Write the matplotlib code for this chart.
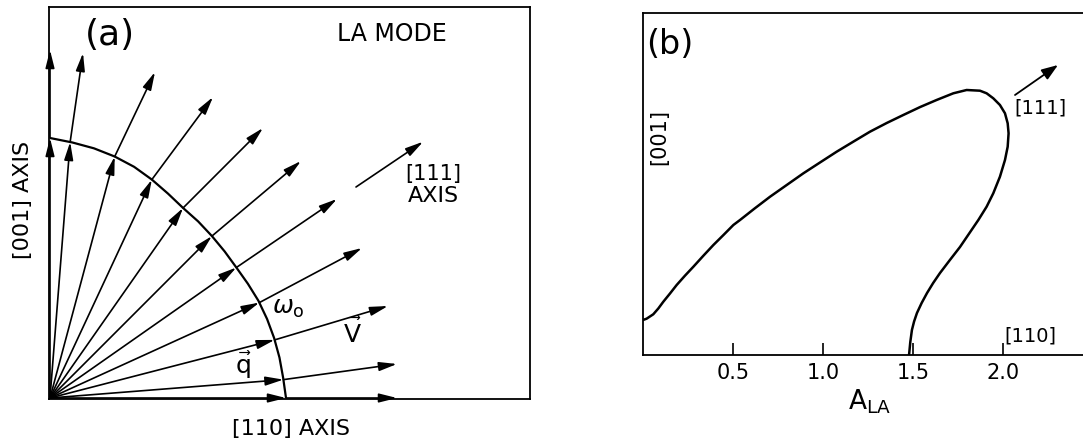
import numpy as np
import matplotlib
matplotlib.use('Agg')
import matplotlib.pyplot as plt
from matplotlib.patches import FancyArrowPatch

plt.rcParams['font.family'] = ['DejaVu Sans']
plt.rcParams['mathtext.fontset'] = 'dejavusans'

# ---------------- Panel (a) data ----------------
# constant-frequency (omega_0) surface: angle from [110] (deg) and radius |q|
arc_theta = [0, 5, 10, 15, 20, 25, 30, 35, 40, 45, 50, 55, 60, 65, 70, 75, 80, 85, 90]
arc_radius = [236, 234, 233, 232, 231, 230, 228.5, 227.5, 228, 229, 230.5, 232,
              236, 241, 246, 250, 253.5, 256.5, 260]
# wave-vector directions (deg from [110])
q_theta = [90, 85.5, 75, 65, 55, 45, 35, 24.5, 14.5, 4.5, 0]
# group-velocity arrow tips
v_tip_x = [0, 33, 105, 163, 213, 251, 287, 312, 338, 347, 347]
v_tip_y = [348, 345, 326, 301, 270, 237, 199, 150, 92, 34, 0]

# ---------------- Panel (b) data ----------------
ala_x = [0.0, 0.02, 0.057, 0.085, 0.113, 0.150, 0.187, 0.233, 0.280, 0.335, 0.391,
         0.447, 0.502, 0.539, 0.620, 0.706, 0.800, 0.891, 0.985, 1.076, 1.170, 1.261,
         1.354, 1.446, 1.540, 1.631, 1.724, 1.798, 1.872, 1.909, 1.946, 1.983, 2.011,
         2.026, 2.031, 2.026, 2.011, 1.983, 1.946, 1.909, 1.863, 1.812, 1.761, 1.705,
         1.650, 1.612, 1.578, 1.548, 1.522, 1.506, 1.494, 1.485, 1.478]
ala_y = [35, 36.3, 40.7, 46.5, 53.3, 61.5, 70, 79.3, 88.3, 99.2, 110, 120, 130, 135,
         146.5, 158.3, 170.2, 181.7, 192.7, 203.3, 213.5, 223.3, 232, 240, 248, 255,
         261.7, 265, 264.3, 261.7, 256.7, 250, 241.7, 231.7, 221.7, 208.3, 195, 178.3,
         161.7, 148.3, 135, 121.5, 108, 95, 82, 72, 62, 52, 42, 33.5, 25, 13, 0]
xticks_b = [0.5, 1.0, 1.5, 2.0]
xtick_labels_b = ['0.5', '1.0', '1.5', '2.0']

W, H = 1083, 441
fig = plt.figure(figsize=(W / 100, H / 100), dpi=100)

# ---------------- Panel (a) ----------------
axA = fig.add_axes([49 / W, (H - 399) / H, 481 / W, 392 / H])
axA.set_xlim(-1, 480)
axA.set_ylim(-1, 391)
axA.set_xticks([])
axA.set_yticks([])
for s in axA.spines.values():
    s.set_linewidth(1.3)

th = np.radians(arc_theta)
axA.plot(np.array(arc_radius) * np.cos(th), np.array(arc_radius) * np.sin(th),
         color='black', lw=1.6, solid_capstyle='butt', solid_joinstyle='round')


def arrow(ax, p0, p1):
    a = FancyArrowPatch(p0, p1, arrowstyle='-|>,head_length=0.6,head_width=0.15',
                        mutation_scale=18, shrinkA=0, shrinkB=0, lw=1.2,
                        color='black', clip_on=False, zorder=3)
    ax.add_patch(a)


for t, tx, ty in zip(q_theta, v_tip_x, v_tip_y):
    r = np.interp(t, arc_theta, arc_radius)
    p = (r * np.cos(np.radians(t)), r * np.sin(np.radians(t)))
    arrow(axA, (0, 0), p)
    arrow(axA, p, (tx, ty))

# [111] axis indicator
d111 = np.radians(34)
arrow(axA, (306, 211), (306 + 81 * np.cos(d111), 211 + 81 * np.sin(d111)))

axA.text(60, 363, '(a)', fontsize=26, ha='center', va='center')
axA.text(342, 364, 'LA MODE', fontsize=17, ha='center', va='center')
axA.text(383, 224, '[111]', fontsize=15, ha='center', va='center')
axA.text(383, 202, 'AXIS', fontsize=16, ha='center', va='center')
axA.text(238, 90, r'$\omega_\mathrm{o}$', fontsize=18, ha='center', va='center')
axA.text(194, 33, r'$\vec{\mathrm{q}}$', fontsize=18, ha='center', va='center')
axA.text(302, 65, r'$\vec{\mathrm{V}}$', fontsize=18, ha='center', va='center')

fig.text(23 / W, 1 - 200 / H, '[001] AXIS', fontsize=16, rotation=90,
         ha='center', va='center')
fig.text(291 / W, 1 - 429 / H, '[110] AXIS', fontsize=16, ha='center', va='center')

# ---------------- Panel (b) ----------------
axB = fig.add_axes([643 / W, (H - 355) / H, 440 / W, 341.5 / H])
axB.set_xlim(0, 440 / 180)
axB.set_ylim(0, 341.5)
axB.plot(ala_x, ala_y, color='black', lw=1.8, solid_joinstyle='round')
axB.spines['right'].set_visible(False)
for s in ['left', 'top', 'bottom']:
    axB.spines[s].set_linewidth(1.3)
axB.set_yticks([])
axB.set_xticks(xticks_b)
axB.set_xticklabels(xtick_labels_b, fontsize=15)
axB.tick_params(axis='x', direction='in', length=9, width=1.2, pad=6)
axB.set_xlabel(r'$\mathregular{A_{LA}}$', fontsize=19)
axB.xaxis.set_label_coords(0.514, -0.095)
axB.xaxis.label.set_va('top')

axB.text(0.06, 0.91, '(b)', fontsize=24, ha='center', va='center',
         transform=axB.transAxes)
axB.text(16 / 180, 218, '[001]', fontsize=15, rotation=90, ha='center', va='center')
axB.text(397 / 180, 247, '[111]', fontsize=14, ha='center', va='center')
axB.text(387 / 180, 19, '[110]', fontsize=14, ha='center', va='center')
axB.annotate('', xy=(415 / 180, 290), xytext=(372 / 180, 260),
             arrowprops=dict(arrowstyle='-|>,head_length=0.55,head_width=0.2',
                             mutation_scale=18, lw=1.3, color='black',
                             shrinkA=0, shrinkB=0))

fig.savefig('out.png', dpi=100)
